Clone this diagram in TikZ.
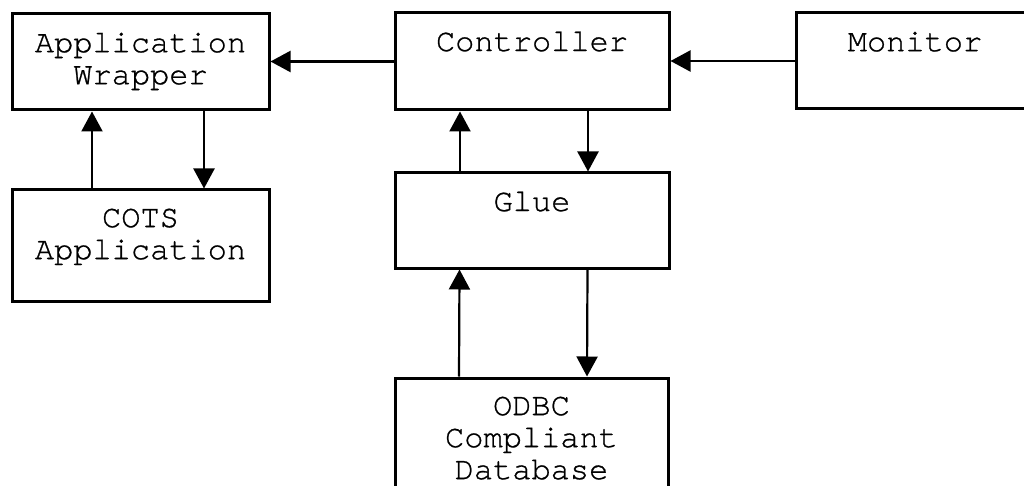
\documentclass[tikz,border=0pt]{standalone}
\usepackage{fontspec}
\setmonofont[FakeBold=0.8]{TeX Gyre Cursor}
\usetikzlibrary{arrows.meta}
\tikzset{
  blk/.style={draw, line width=3pt, inner sep=0pt, minimum width=#1},
  blk/.default=274pt,
  boxcap/.style={anchor=north, yshift=-20pt, inner sep=0pt, align=center,
    font=\ttfamily\fontsize{32}{32}\selectfont},
  flow/.style={line width=2.2pt, -{Triangle[length=20pt,width=21pt]}}
}
\begin{document}
\begin{tikzpicture}[x=1pt, y=-1pt]
\clip (0,0) rectangle (1024,486);
\fill[white] (0,0) rectangle (1024,486);

% components
\node[blk=257pt, minimum height=96pt, label={[boxcap]north:Application\\Wrapper}] (aw) at (140.5,62) {};
\node[blk=257pt, minimum height=111pt, label={[boxcap]north:COTS\\Application}] (cots) at (140.5,245.5) {};
\node[blk, minimum height=97pt, label={[boxcap]north:Controller}] (ctrl) at (532,61.5) {};
\node[blk, minimum height=95pt, label={[boxcap]north:Glue}] (glue) at (532,220.5) {};
\node[blk=238pt, minimum height=96pt, label={[boxcap]north:Monitor}] (mon) at (915,61) {};
\node[blk=273pt, minimum height=124pt, label={[boxcap]north:ODBC\\Compliant\\Database}] (db) at (531.5,440) {};

% data flow
\draw[flow] (mon.west) -- (mon.west -| ctrl.east);
\draw[flow] (ctrl.west) -- (ctrl.west -| aw.east);
\draw[flow] ([xshift=-48.5pt]cots.north) -- ([xshift=-48.5pt]aw.south);
\draw[flow] ([xshift=63.5pt]aw.south) -- ([xshift=63.5pt]cots.north);
\draw[flow] ([xshift=-72pt]glue.north) -- ([xshift=-72pt]ctrl.south);
\draw[flow] ([xshift=56pt]ctrl.south) -- ([xshift=56pt]glue.north);
\draw[flow] ([xshift=-72.5pt]db.north) -- ([xshift=-72.5pt]glue.south);
\draw[flow] ([xshift=55.5pt]glue.south) -- ([xshift=55.5pt]db.north);
\end{tikzpicture}
\end{document}
